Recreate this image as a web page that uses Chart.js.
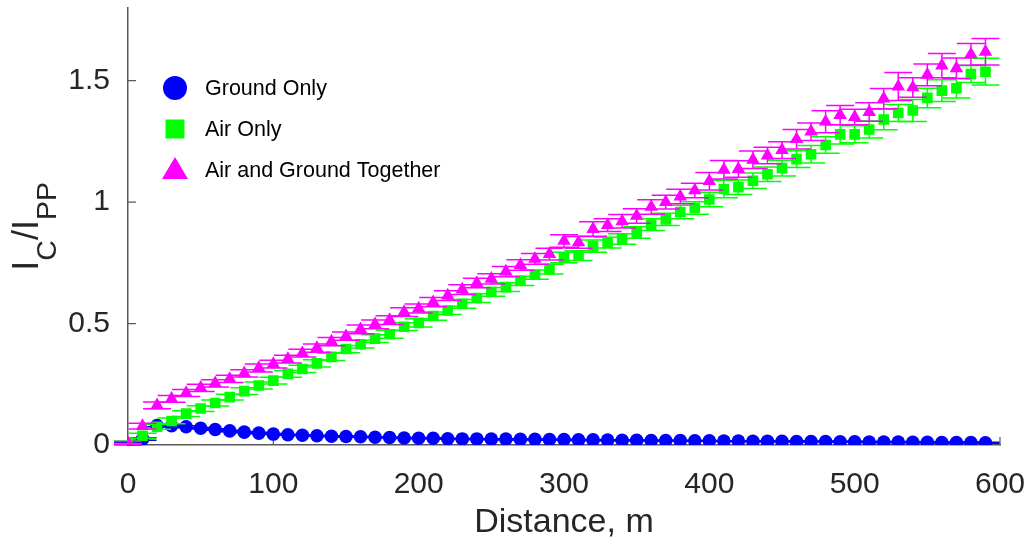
<!DOCTYPE html>
<html>
<head>
<meta charset="utf-8">
<script src="https://cdn.jsdelivr.net/npm/chart.js@4.4.1/dist/chart.umd.min.js"></script>
<style>
  html, body { margin: 0; padding: 0; background: #fff; }
  #wrap { width: 1036px; height: 546px; }
</style>
</head>
<body>
<div id="wrap"><canvas id="chart" width="1036" height="546"></canvas></div>
<script>
// distance from source, m
const distances = [0, 10, 20, 30, 40, 50, 60, 70, 80, 90,
  100, 110, 120, 130, 140, 150, 160, 170, 180, 190,
  200, 210, 220, 230, 240, 250, 260, 270, 280, 290,
  300, 310, 320, 330, 340, 350, 360, 370, 380, 390,
  400, 410, 420, 430, 440, 450, 460, 470, 480, 490,
  500, 510, 520, 530, 540, 550, 560, 570, 580, 590];

// Ic/Ipp per scenario
const groundOnly = [0.005, 0.025, 0.080, 0.079, 0.075, 0.069, 0.064, 0.058, 0.053, 0.049,
  0.045, 0.042, 0.040, 0.038, 0.036, 0.035, 0.034, 0.032, 0.031, 0.029,
  0.028, 0.028, 0.026, 0.025, 0.025, 0.024, 0.024, 0.023, 0.023, 0.022,
  0.022, 0.021, 0.021, 0.020, 0.019, 0.019, 0.018, 0.018, 0.018, 0.017,
  0.017, 0.016, 0.016, 0.015, 0.015, 0.015, 0.014, 0.014, 0.014, 0.013,
  0.013, 0.012, 0.012, 0.012, 0.011, 0.011, 0.010, 0.010, 0.010, 0.009];
const airOnly = [0.010, 0.038, 0.075, 0.099, 0.129, 0.150, 0.173, 0.197, 0.222, 0.245,
  0.265, 0.293, 0.313, 0.336, 0.363, 0.395, 0.415, 0.438, 0.456, 0.487,
  0.503, 0.531, 0.554, 0.581, 0.605, 0.630, 0.650, 0.676, 0.701, 0.724,
  0.772, 0.780, 0.819, 0.833, 0.848, 0.875, 0.907, 0.929, 0.959, 0.976,
  1.011, 1.054, 1.061, 1.088, 1.115, 1.140, 1.177, 1.197, 1.235, 1.279,
  1.279, 1.299, 1.340, 1.367, 1.377, 1.429, 1.459, 1.469, 1.527, 1.537];
const airAndGround = [0.008, 0.078, 0.163, 0.190, 0.214, 0.235, 0.254, 0.272, 0.295, 0.317,
  0.333, 0.354, 0.378, 0.399, 0.426, 0.448, 0.476, 0.497, 0.514, 0.547,
  0.562, 0.588, 0.615, 0.640, 0.667, 0.684, 0.714, 0.741, 0.766, 0.786,
  0.840, 0.834, 0.889, 0.905, 0.921, 0.943, 0.980, 1.000, 1.023, 1.048,
  1.086, 1.133, 1.136, 1.174, 1.192, 1.214, 1.259, 1.290, 1.331, 1.358,
  1.350, 1.371, 1.426, 1.476, 1.472, 1.524, 1.562, 1.551, 1.608, 1.619];

// error bar half-heights
const groundErr = [0.004, 0.005, 0.005, 0.004, 0.004, 0.003, 0.003, 0.003, 0.003, 0.003,
  0.002, 0.002, 0.002, 0.002, 0.002, 0.002, 0.002, 0.002, 0.002, 0.002,
  0.002, 0.002, 0.002, 0.002, 0.002, 0.002, 0.002, 0.002, 0.002, 0.002,
  0.002, 0.002, 0.002, 0.002, 0.002, 0.002, 0.002, 0.002, 0.002, 0.002,
  0.002, 0.002, 0.002, 0.002, 0.002, 0.002, 0.002, 0.002, 0.002, 0.002,
  0.002, 0.002, 0.002, 0.002, 0.002, 0.002, 0.002, 0.002, 0.002, 0.002];
const airErr = [0.006, 0.010, 0.010, 0.012, 0.012, 0.012, 0.012, 0.012, 0.014, 0.014,
  0.014, 0.014, 0.015, 0.015, 0.015, 0.015, 0.016, 0.016, 0.016, 0.016,
  0.017, 0.017, 0.017, 0.018, 0.018, 0.018, 0.018, 0.019, 0.019, 0.020,
  0.022, 0.020, 0.025, 0.022, 0.022, 0.024, 0.024, 0.025, 0.028, 0.026,
  0.030, 0.036, 0.030, 0.032, 0.030, 0.032, 0.034, 0.036, 0.034, 0.040,
  0.035, 0.035, 0.042, 0.035, 0.045, 0.040, 0.045, 0.040, 0.035, 0.055];
const bothErr = [0.006, 0.012, 0.014, 0.014, 0.014, 0.015, 0.015, 0.015, 0.015, 0.016,
  0.016, 0.016, 0.016, 0.017, 0.017, 0.017, 0.018, 0.018, 0.018, 0.018,
  0.019, 0.019, 0.020, 0.020, 0.020, 0.021, 0.021, 0.022, 0.022, 0.024,
  0.026, 0.024, 0.030, 0.026, 0.028, 0.030, 0.030, 0.028, 0.030, 0.030,
  0.036, 0.038, 0.034, 0.036, 0.034, 0.034, 0.040, 0.036, 0.045, 0.040,
  0.032, 0.038, 0.042, 0.058, 0.040, 0.045, 0.050, 0.042, 0.045, 0.055];

const yTicks = [0, 0.5, 1, 1.5];
const seriesNames = ['Ground Only', 'Air Only', 'Air and Ground Together'];

const FONT = '"Liberation Sans", Arial, Helvetica, sans-serif';
const AXIS_COLOR = '#595959';
const TEXT_COLOR = '#262626';

const toPoints = vals => vals.map((v, i) => ({ x: distances[i], y: v }));

// vertical error bars with wide caps, drawn under each dataset's markers
const errorBars = {
  id: 'errorBars',
  beforeDatasetDraw(chart, args) {
    const ds = chart.data.datasets[args.index];
    if (!ds.errors) return;
    const { ctx, scales: { x, y } } = chart;
    ctx.save();
    ctx.strokeStyle = ds.borderColor;
    ctx.lineWidth = 1.5;
    ds.data.forEach((p, i) => {
      const e = ds.errors[i];
      const px = x.getPixelForValue(p.x);
      const top = y.getPixelForValue(p.y + e);
      const bot = y.getPixelForValue(p.y - e);
      ctx.beginPath();
      ctx.moveTo(px, top); ctx.lineTo(px, bot);
      ctx.moveTo(px - 14, top); ctx.lineTo(px + 14, top);
      ctx.moveTo(px - 14, bot); ctx.lineTo(px + 14, bot);
      ctx.stroke();
    });
    ctx.restore();
  }
};

// inward tick marks, like the original figure
const innerTicks = {
  id: 'innerTicks',
  beforeDatasetsDraw(chart) {
    const { ctx, chartArea, scales: { x, y } } = chart;
    ctx.save();
    ctx.strokeStyle = AXIS_COLOR;
    ctx.lineWidth = 1.2;
    ctx.beginPath();
    x.ticks.forEach(t => {
      const px = x.getPixelForValue(t.value);
      ctx.moveTo(px, chartArea.bottom); ctx.lineTo(px, chartArea.bottom - 8);
    });
    y.ticks.forEach(t => {
      const py = y.getPixelForValue(t.value);
      ctx.moveTo(chartArea.left, py); ctx.lineTo(chartArea.left + 8, py);
    });
    ctx.stroke();
    ctx.restore();
  }
};

// y title with subscripts: I_C / I_PP
const yTitle = {
  id: 'yTitle',
  afterDraw(chart) {
    const { ctx, chartArea } = chart;
    const parts = [
      ['I', 36, 0], ['C', 28.5, 18], ['/I', 36, 0], ['PP', 28.5, 18]
    ];
    ctx.save();
    ctx.fillStyle = TEXT_COLOR;
    ctx.textBaseline = 'alphabetic';
    let total = 0;
    parts.forEach(p => { ctx.font = p[1] + 'px ' + FONT; p.push(ctx.measureText(p[0]).width); total += p[3]; });
    ctx.translate(38, (chartArea.top + chartArea.bottom) / 2);
    ctx.rotate(-Math.PI / 2);
    let cx = -total / 2;
    parts.forEach(p => {
      ctx.font = p[1] + 'px ' + FONT;
      ctx.fillText(p[0], cx, p[2]);
      cx += p[3];
    });
    ctx.restore();
  }
};

// legend in the upper-left of the plot area
const insideLegend = {
  id: 'insideLegend',
  afterDraw(chart) {
    const { ctx } = chart;
    const rows = [88, 129, 170];
    const mx = 175;
    ctx.save();
    ctx.font = '21.5px ' + FONT;
    ctx.textBaseline = 'middle';
    chart.data.datasets.forEach((ds, i) => {
      const yy = rows[i];
      ctx.fillStyle = ds.backgroundColor;
      ctx.beginPath();
      if (ds.pointStyle === 'circle') {
        ctx.arc(mx, yy, 12, 0, Math.PI * 2);
      } else if (ds.pointStyle === 'rect') {
        ctx.rect(mx - 9.5, yy - 9.5, 19, 19);
      } else {
        ctx.moveTo(mx, yy - 13);
        ctx.lineTo(mx + 13, yy + 9);
        ctx.lineTo(mx - 13, yy + 9);
        ctx.closePath();
      }
      ctx.fill();
      ctx.fillStyle = '#000';
      ctx.fillText(ds.label, 205, yy + 1);
    });
    ctx.restore();
  }
};

new Chart(document.getElementById('chart'), {
  type: 'scatter',
  data: {
    datasets: [
      {
        label: seriesNames[0],
        data: toPoints(groundOnly),
        errors: groundErr,
        pointStyle: 'circle',
        pointRadius: 6.8,
        backgroundColor: '#0000ff',
        borderColor: '#0000ff',
        borderWidth: 0,
        order: 3
      },
      {
        label: seriesNames[1],
        data: toPoints(airOnly),
        errors: airErr,
        pointStyle: 'rect',
        pointRadius: 7.5,
        backgroundColor: '#00ff00',
        borderColor: '#00ff00',
        borderWidth: 0,
        order: 2
      },
      {
        label: seriesNames[2],
        data: toPoints(airAndGround),
        errors: bothErr,
        pointStyle: 'triangle',
        pointRadius: 7.8,
        backgroundColor: '#ff00ff',
        borderColor: '#ff00ff',
        borderWidth: 0,
        order: 1
      }
    ]
  },
  options: {
    responsive: false,
    animation: false,
    layout: { padding: { top: 4, right: 36, left: 0, bottom: 0 } },
    plugins: {
      legend: { display: false },
      tooltip: { enabled: false }
    },
    scales: {
      x: {
        type: 'linear',
        min: 0,
        max: 600,
        grid: { display: false },
        border: { display: true, color: AXIS_COLOR, width: 1.5 },
        ticks: {
          stepSize: 100,
          padding: 14,
          color: TEXT_COLOR,
          font: { family: FONT, size: 30 }
        },
        title: {
          display: true,
          text: 'Distance, m',
          color: TEXT_COLOR,
          font: { family: FONT, size: 34 },
          padding: { top: 0, bottom: 3 }
        },
        afterFit(scale) {
          scale.height = 101;
          scale.paddingLeft = 0;
          scale.paddingRight = 0;
        }
      },
      y: {
        type: 'linear',
        min: 0,
        max: 1.8,
        grid: { display: false },
        border: { display: true, color: AXIS_COLOR, width: 1.5 },
        ticks: {
          padding: 10,
          color: TEXT_COLOR,
          font: { family: FONT, size: 30 },
          callback: v => String(v)
        },
        afterBuildTicks(scale) { scale.ticks = yTicks.map(v => ({ value: v })); },
        afterFit(scale) {
          scale.width = 128;
          scale.paddingTop = 0;
          scale.paddingBottom = 0;
        }
      }
    }
  },
  plugins: [errorBars, innerTicks, yTitle, insideLegend]
});
</script>
</body>
</html>
